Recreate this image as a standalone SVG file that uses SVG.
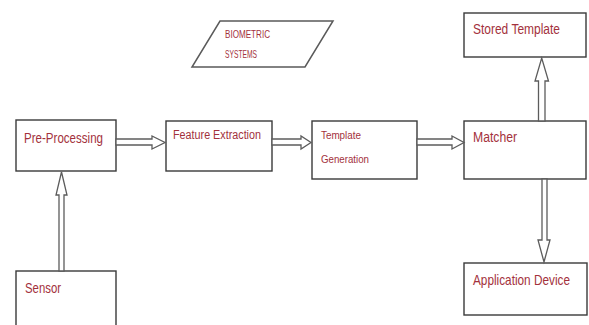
<svg xmlns="http://www.w3.org/2000/svg" width="589" height="325" viewBox="0 0 589 325">
  <style>
    .box { fill: #ffffff; stroke: #3a3a3a; stroke-width: 1.4; }
    .para { fill: #ffffff; stroke: #5a5a5a; stroke-width: 1.5; }
    .arrow { fill: #ffffff; stroke: #5c5c5c; stroke-width: 1.3; stroke-linejoin: miter; }
    .lbl { font-family: "Liberation Sans", Arial, sans-serif; fill: #a3313c; }
  </style>
  <rect width="589" height="325" fill="#ffffff"/>

  <g id="biometric-systems">
    <polygon class="para" points="220,21 333,21 305,67 192,67"/>
    <text class="lbl" x="225" y="38" font-size="10.5" textLength="45" lengthAdjust="spacingAndGlyphs">BIOMETRIC</text>
    <text class="lbl" x="225" y="58" font-size="10.5" textLength="32" lengthAdjust="spacingAndGlyphs">SYSTEMS</text>
  </g>

  <g id="pre-processing">
    <rect class="box" x="16" y="120" width="100" height="51"/>
    <text class="lbl" x="24" y="143" font-size="15" textLength="79" lengthAdjust="spacingAndGlyphs">Pre-Processing</text>
  </g>

  <g id="feature-extraction">
    <rect class="box" x="166" y="121" width="106" height="50"/>
    <text class="lbl" x="173" y="139" font-size="12.5" textLength="88" lengthAdjust="spacingAndGlyphs">Feature Extraction</text>
  </g>

  <g id="template-generation">
    <rect class="box" x="312" y="121" width="105" height="58"/>
    <text class="lbl" x="321" y="139" font-size="11.5" textLength="40" lengthAdjust="spacingAndGlyphs">Template</text>
    <text class="lbl" x="321" y="163" font-size="11.5" textLength="48" lengthAdjust="spacingAndGlyphs">Generation</text>
  </g>

  <g id="matcher">
    <rect class="box" x="464" y="121" width="122" height="58"/>
    <text class="lbl" x="473" y="142" font-size="14" textLength="44" lengthAdjust="spacingAndGlyphs">Matcher</text>
  </g>

  <g id="stored-template">
    <rect class="box" x="464" y="13" width="122" height="44"/>
    <text class="lbl" x="473" y="34" font-size="14" textLength="87" lengthAdjust="spacingAndGlyphs">Stored Template</text>
  </g>

  <g id="application-device">
    <rect class="box" x="464" y="263" width="123" height="52"/>
    <text class="lbl" x="473" y="285" font-size="15" textLength="97" lengthAdjust="spacingAndGlyphs">Application Device</text>
  </g>

  <g id="sensor">
    <rect class="box" x="16" y="271" width="100" height="64"/>
    <text class="lbl" x="25" y="293" font-size="15" textLength="36" lengthAdjust="spacingAndGlyphs">Sensor</text>
  </g>

  <g id="connectors">
    <!-- block arrows drawn as hollow outlines -->
    <polygon class="arrow" points="116,139 152,139 152,136 165,142.5 152,149 152,145 116,145"/>
    <polygon class="arrow" points="272,139 301,139 301,136 311,142.5 301,149 301,145 272,145"/>
    <polygon class="arrow" points="417,139 452,139 452,136 464,142.5 452,149 452,145 417,145"/>
    <polygon class="arrow" points="59,271 59,195 56,195 61.5,172 67,195 64,195 64,271"/>
    <polygon class="arrow" points="538.5,121 538.5,81 535,81 541.7,58 548.5,81 545,81 545,121"/>
    <polygon class="arrow" points="542,179 542,240 538,240 544,262 550,240 547,240 547,179"/>
  </g>
</svg>
